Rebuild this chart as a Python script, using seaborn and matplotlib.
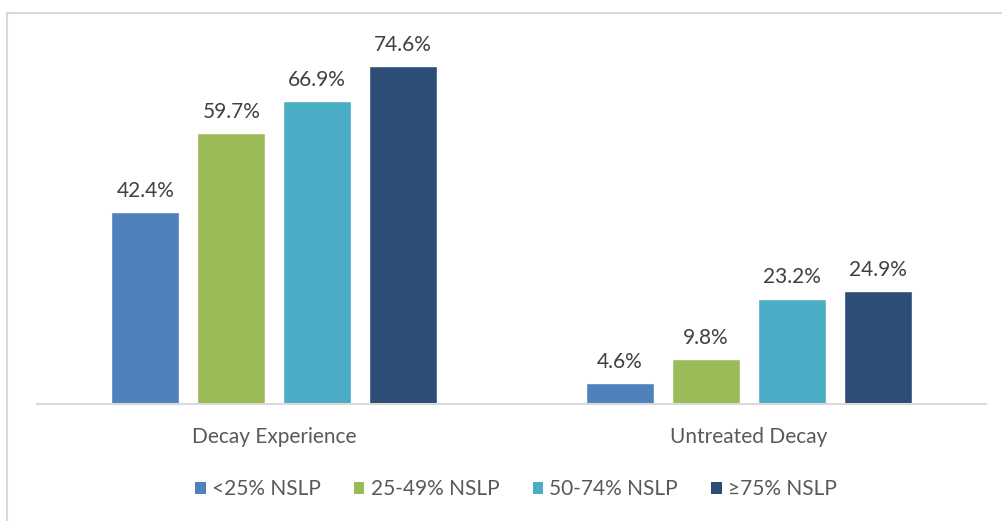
import matplotlib
matplotlib.use("Agg")
import matplotlib.pyplot as plt
import seaborn as sns
import pandas as pd
from matplotlib.patches import Rectangle, Patch

categories = ["Decay Experience", "Untreated Decay"]
groups = ["<25% NSLP", "25-49% NSLP", "50-74% NSLP", "≥75% NSLP"]
values_lt25 = [42.4, 4.6]
values_25_49 = [59.7, 9.8]
values_50_74 = [66.9, 23.2]
values_ge75 = [74.6, 24.9]
colors = ["#4f81bd", "#9bbb59", "#4bacc6", "#2c4d75"]

series = [values_lt25, values_25_49, values_50_74, values_ge75]
rows = []
for g, vals in zip(groups, series):
    for c, v in zip(categories, vals):
        rows.append({"Category": c, "Group": g, "Value": v})
df = pd.DataFrame(rows)

sns.set_theme(style="white")
plt.rcParams['font.family'] = ['Lato', 'DejaVu Sans']

W, H = 1003, 521
fig = plt.figure(figsize=(W / 100, H / 100), dpi=100)
ax_left, ax_right = 37, 986
ax_bottom_px, ax_top_px = 403.5, 20
ax = fig.add_axes([ax_left / W, 1 - ax_bottom_px / H,
                   (ax_right - ax_left) / W, (ax_bottom_px - ax_top_px) / H])

sns.barplot(data=df, x="Category", y="Value", hue="Group", hue_order=groups,
            palette=colors, width=0.725, gap=0.21, saturation=1,
            legend=False, ax=ax)

ymax = (ax_bottom_px - ax_top_px) / (337.5 / 74.6)
ax.set_ylim(0, ymax)
ax.set_xlim(-0.5, 1.5)

for cont in ax.containers:
    ax.bar_label(cont, labels=[f"{v:.1f}%" for v in cont.datavalues],
                 padding=8, fontsize=15, color="#404040")

for s in ["top", "right", "left"]:
    ax.spines[s].set_visible(False)
ax.spines["bottom"].set_color("#d9d9d9")
ax.spines["bottom"].set_linewidth(1.5)
ax.set_yticks([])
ax.set_xlabel("")
ax.set_ylabel("")
ax.tick_params(axis="x", length=0, pad=17, labelsize=15, labelcolor="#595959")

handles = [Patch(facecolor=c, edgecolor="none") for c in colors]
fig.legend(handles, groups, loc="center", bbox_to_anchor=(516 / W, 1 - 489 / H),
           ncol=4, frameon=False, fontsize=15, labelcolor="#595959",
           handlelength=0.5, handleheight=0.5, handletextpad=0.3,
           columnspacing=1.6)

# chart border
fig.patches.append(Rectangle((7 / W, -0.05), 1.2, 1 - 13 / H + 0.05,
                             transform=fig.transFigure, fill=False,
                             edgecolor="#d9d9d9", linewidth=1.5))

fig.savefig("out.png", dpi=100)
